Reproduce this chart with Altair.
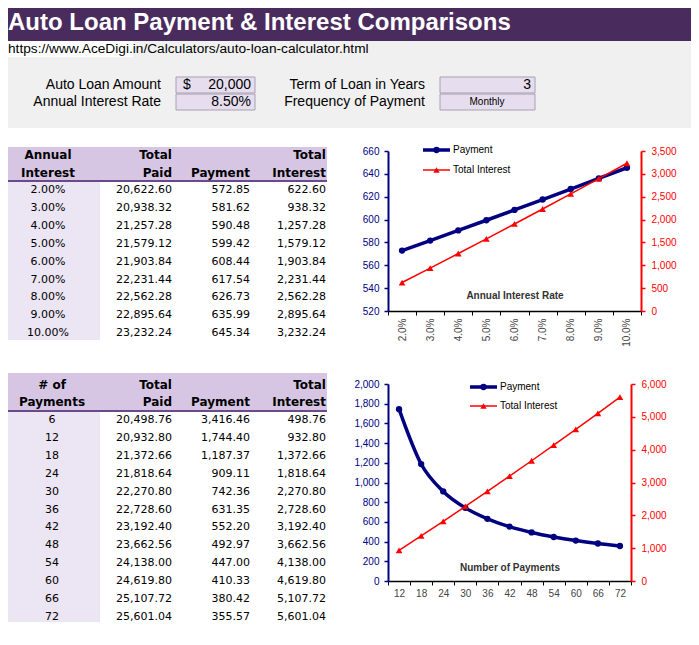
import altair as alt
import pandas as pd

# ---------------- text content ----------------
TITLE = "Auto Loan Payment & Interest Comparisons"
URL = "https://www.AceDigi.in/Calculators/auto-loan-calculator.html"
input_rows = [0, 1]
input_labels_left = ["Auto Loan Amount", "Annual Interest Rate"]
input_prefix_left = ["$", ""]
input_values_left = ["20,000", "8.50%"]
input_labels_right = ["Term of Loan in Years", "Frequency of Payment"]
input_values_right = ["3", "Monthly"]
series_names = ["Payment", "Total Interest"]

# ---------------- table / chart 1 ----------------
annual_rates = [0.02, 0.03, 0.04, 0.05, 0.06, 0.07, 0.08, 0.09, 0.10]
t1_total_paid = [20622.60, 20938.32, 21257.28, 21579.12, 21903.84, 22231.44, 22562.28, 22895.64, 23232.24]
t1_payment = [572.85, 581.62, 590.48, 599.42, 608.44, 617.54, 626.73, 635.99, 645.34]
t1_total_interest = [622.60, 938.32, 1257.28, 1579.12, 1903.84, 2231.44, 2562.28, 2895.64, 3232.24]
t1_header_top = ["Annual", "Total", "", "Total"]
t1_header_bottom = ["Interest", "Paid", "Payment", "Interest"]
chart1_axis_title = "Annual Interest Rate"
chart1_pay_ticks = [520, 540, 560, 580, 600, 620, 640, 660]
chart1_int_ticks = [0, 500, 1000, 1500, 2000, 2500, 3000, 3500]

# ---------------- table / chart 2 ----------------
num_payments = [6, 12, 18, 24, 30, 36, 42, 48, 54, 60, 66, 72]
t2_total_paid = [20498.76, 20932.80, 21372.66, 21818.64, 22270.80, 22728.60, 23192.40, 23662.56,
                 24138.00, 24619.80, 25107.72, 25601.04]
t2_payment = [3416.46, 1744.40, 1187.37, 909.11, 742.36, 631.35, 552.20, 492.97, 447.00, 410.33, 380.42, 355.57]
t2_total_interest = [498.76, 932.80, 1372.66, 1818.64, 2270.80, 2728.60, 3192.40, 3662.56,
                     4138.00, 4619.80, 5107.72, 5601.04]
t2_header_top = ["# of", "Total", "", "Total"]
t2_header_bottom = ["Payments", "Paid", "Payment", "Interest"]
chart2_axis_title = "Number of Payments"
chart2_pay_ticks = [0, 200, 400, 600, 800, 1000, 1200, 1400, 1600, 1800, 2000]
chart2_int_ticks = [0, 1000, 2000, 3000, 4000, 5000, 6000]

# ---------------- styles ----------------
NAVY = "#000080"
RED = "#ff0000"
PURPLE = "#4a2b5e"
GRAY_BG = "#f0f0f0"
HDR = "#d6c6e4"
COL1 = "#ece5f3"
HLINE = "#6a4a8a"
BOX = "#e6deef"
BOX_STROKE = "#a8a0b0"
SANS = "Liberation Sans"
TFONT = "DejaVu Sans"

ONE = alt.Data(values=[{}])


def box(x, x2, y, y2, fill, stroke=None):
    if stroke:
        m = alt.Chart(ONE).mark_rect(fill=fill, stroke=stroke, strokeWidth=1)
    else:
        m = alt.Chart(ONE).mark_rect(fill=fill)
    return m.encode(x=alt.value(x), x2=alt.value(x2), y=alt.value(y), y2=alt.value(y2))


def label(text, x, y, align="left", size=12, weight="normal", color="black", font=SANS, baseline="middle"):
    return alt.Chart(ONE).mark_text(
        text=text, align=align, baseline=baseline, fontSize=size, fontWeight=weight, color=color, font=font
    ).encode(x=alt.value(x), y=alt.value(y))


# ---------------- top area ----------------
inputs = pd.DataFrame({
    "row": input_rows,
    "ll": input_labels_left, "lp": input_prefix_left, "lv": input_values_left,
    "rl": input_labels_right, "rv": input_values_right,
})
yin = alt.Y("row:O", scale=alt.Scale(type="point", range=[77, 94], padding=0), axis=None)
inbase = alt.Chart(inputs)

top_layers = [
    box(0, 683, 33, 120, GRAY_BG),
    box(0, 683, 0, 33, PURPLE),
    box(0, 125, 33, 49, "white"),
    label(TITLE, 0, 22, size=24, weight="bold", color="white", baseline="alphabetic"),
    label(URL, 0, 45, size=13.7, baseline="alphabetic"),
    box(168, 247, 69, 85, BOX, BOX_STROKE),
    box(168, 247, 86, 102, BOX, BOX_STROKE),
    box(432, 527, 69, 85, BOX, BOX_STROKE),
    box(432, 527, 86, 102, BOX, BOX_STROKE),
    inbase.mark_text(align="right", baseline="middle", fontSize=14, font=SANS).encode(
        x=alt.value(153), y=yin, text="ll:N"),
    inbase.mark_text(align="left", baseline="middle", fontSize=14, font=SANS).encode(
        x=alt.value(175), y=yin, text="lp:N"),
    inbase.mark_text(align="right", baseline="middle", fontSize=14, font=SANS).encode(
        x=alt.value(243), y=yin, text="lv:N"),
    inbase.mark_text(align="right", baseline="middle", fontSize=14, font=SANS).encode(
        x=alt.value(417), y=yin, text="rl:N"),
    inbase.transform_filter("datum.row == 0").mark_text(align="right", baseline="middle", fontSize=14, font=SANS).encode(
        x=alt.value(523), y=yin, text="rv:N"),
    inbase.transform_filter("datum.row == 1").mark_text(align="center", baseline="middle", fontSize=10, font=SANS).encode(
        x=alt.value(479), y=yin, text="rv:N"),
]
top_left = alt.layer(*top_layers).properties(width=317, height=70)
top_right = alt.Chart(ONE).mark_text(text="").encode(x=alt.value(10), y=alt.value(50)).properties(width=253, height=70)


# ---------------- tables ----------------
def table(keys, key_fmt, paid, pay, intr, htop, hbot, width, height,
          hdr_top, line_y, fill_bottom, h1_y, h2_y, row_y0, col1_x):
    df = pd.DataFrame({"k": keys, "paid": paid, "pay": pay, "int": intr})
    step = 17.9
    y = alt.Y("k:O", sort=None, axis=None,
              scale=alt.Scale(type="point", range=[row_y0, row_y0 + step * (len(keys) - 1)], padding=0))
    cols_x = [col1_x, 164, 242, 318]
    aligns = ["center", "right", "right", "right"]
    layers = [
        box(0, 319, hdr_top, line_y, HDR),
        box(0, 92, line_y + 1, fill_bottom, COL1),
        box(0, 319, line_y - 1, line_y + 1, HLINE),
    ]
    for t, b, x, a in zip(htop, hbot, cols_x, aligns):
        if t:
            layers.append(label(t, x, h1_y, align=a, size=12, weight="bold", font=TFONT))
        layers.append(label(b, x, h2_y, align=a, size=12, weight="bold", font=TFONT))
    base = alt.Chart(df)
    layers.append(base.mark_text(align="center", baseline="middle", fontSize=11, font=TFONT).encode(
        x=alt.value(col1_x), y=y, text=alt.Text("k:O", format=key_fmt, formatType="number")))
    for f, x in zip(["paid", "pay", "int"], cols_x[1:]):
        layers.append(base.mark_text(align="right", baseline="middle", fontSize=11, font=TFONT).encode(
            x=alt.value(x), y=y, text=alt.Text(f + ":Q", format=",.2f")))
    return alt.layer(*layers).properties(width=width, height=height)


table1 = table(annual_rates, ".2%", t1_total_paid, t1_payment, t1_total_interest,
               t1_header_top, t1_header_bottom, 317, 160,
               hdr_top=-4, line_y=30, fill_bottom=189, h1_y=4, h2_y=22, row_y0=39, col1_x=40)
table2 = table(num_payments, "d", t2_total_paid, t2_payment, t2_total_interest,
               t2_header_top, t2_header_bottom, 326, 197,
               hdr_top=-11, line_y=27, fill_bottom=238, h1_y=1, h2_y=18, row_y0=36, col1_x=44)


# ---------------- charts ----------------
def line_chart(keys, pay, intr, label_expr, label_angle, pay_dom, pay_ticks, int_dom, int_ticks,
               width, height, title, title_y, leg_x, leg_y, smooth):
    df = pd.DataFrame({"k": keys, "pay": pay, "int": intr})
    x = alt.X("k:O", sort=None,
              scale=alt.Scale(type="band", paddingInner=0, paddingOuter=0),
              axis=alt.Axis(title=title, titleY=title_y, titleBaseline="middle", titleFontSize=10,
                            titleFontWeight="bold", titleColor="#333333", titleFont=SANS,
                            labelExpr=label_expr, labelAngle=label_angle, labelColor="#444444",
                            labelFontSize=10, labelFont=SANS, labelPadding=3,
                            tickBand="extent", tickSize=4, tickColor="black",
                            domainColor="black", domainWidth=1.5, grid=False))
    ypay = alt.Y("pay:Q", scale=alt.Scale(domain=pay_dom, nice=False, zero=False),
                 axis=alt.Axis(orient="left", values=pay_ticks, format=",.0f", title=None, grid=False,
                               domainColor=NAVY, domainWidth=2, tickColor=NAVY, tickWidth=1.5, tickSize=4,
                               labelColor=NAVY, labelFontSize=10, labelFont=SANS, labelPadding=5))
    yint = alt.Y("int:Q", scale=alt.Scale(domain=int_dom, nice=False, zero=False),
                 axis=alt.Axis(orient="right", values=int_ticks, format=",.0f", title=None, grid=False,
                               domainColor=RED, domainWidth=2, tickColor=RED, tickWidth=1.5, tickSize=4,
                               labelColor=RED, labelFontSize=10, labelFont=SANS, labelPadding=6))
    base = alt.Chart(df)
    pay_line = base.mark_line(color=NAVY, strokeWidth=3.5, interpolate="monotone" if smooth else "linear",
                              point=alt.OverlayMarkDef(filled=True, shape="circle", size=40, color=NAVY)
                              ).encode(x=x, y=ypay)
    int_line = base.mark_line(color=RED, strokeWidth=1.5,
                              point=alt.OverlayMarkDef(filled=True, shape="triangle-up", size=45, color=RED)
                              ).encode(x=x, y=yint)
    leg = pd.DataFrame({"s": series_names})
    lyrs = [pay_line, int_line]
    styles = [(NAVY, 3.5, "circle"), (RED, 1.5, "triangle-up")]
    for i, (c, w, shp) in enumerate(styles):
        d = alt.Chart(leg).transform_filter(alt.datum.s == series_names[i])
        lyrs.append(d.mark_rule(color=c, strokeWidth=w).encode(
            x=alt.value(leg_x), x2=alt.value(leg_x + 27), y=alt.value(leg_y[i])))
        lyrs.append(d.mark_point(filled=True, shape=shp, size=40, color=c, opacity=1).encode(
            x=alt.value(leg_x + 13.5), y=alt.value(leg_y[i])))
        lyrs.append(d.mark_text(align="left", baseline="middle", fontSize=10, font=SANS, color="black").encode(
            x=alt.value(leg_x + 30), y=alt.value(leg_y[i]), text="s:N"))
    return alt.layer(*lyrs).resolve_scale(y="independent").properties(width=width, height=height)


chart1 = line_chart(annual_rates, t1_payment, t1_total_interest,
                    "datum.label ? format(datum.value, '.1%') : ''", 270, [520, 660], chart1_pay_ticks,
                    [0, 3500], chart1_int_ticks,
                    253, 160, chart1_axis_title, -16, 35, [-1, 19], False)
chart2 = line_chart(num_payments[1:], t2_payment[1:], t2_total_interest[1:],
                    "datum.label", 0, [0, 2000], chart2_pay_ticks, [0, 6000], chart2_int_ticks,
                    243, 197, chart2_axis_title, -14, 82, [3, 22], True)

chart = alt.concat(
    top_left, top_right, table1, chart1, table2, chart2,
    columns=2, spacing={"row": 73, "column": 54}, bounds="flush",
    align={"row": "each", "column": "none"}, padding=0, background="white",
).configure_view(stroke=None)

chart.save("out.html", embed_options={"renderer": "svg", "actions": False})
